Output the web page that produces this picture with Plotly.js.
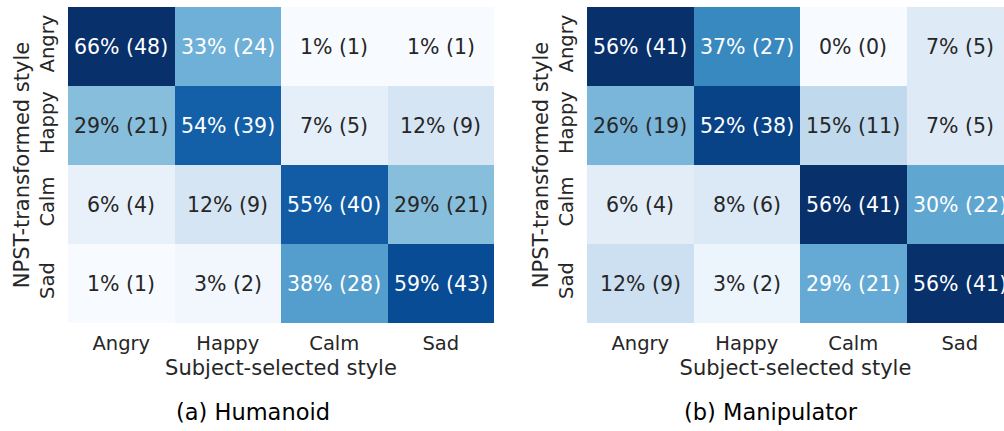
<!DOCTYPE html>
<html>
<head>
<meta charset="utf-8">
<script src="https://cdn.plot.ly/plotly-3.0.1.min.js"></script>
<style>html,body{margin:0;padding:0;overflow:hidden;background:#fff;}</style>
</head>
<body>
<div id="chart" style="width:1004px;height:431px;"></div>
<script>
const styles = ["Angry", "Happy", "Calm", "Sad"];
// rows: NPST-transformed style, cols: subject-selected style
const humanoidPct = [
  [66, 33, 1, 1],
  [29, 54, 7, 12],
  [6, 12, 55, 29],
  [1, 3, 38, 59]
];
const humanoidCnt = [
  [48, 24, 1, 1],
  [21, 39, 5, 9],
  [4, 9, 40, 21],
  [1, 2, 28, 43]
];
const manipPct = [
  [56, 37, 0, 7],
  [26, 52, 15, 7],
  [6, 8, 56, 30],
  [12, 3, 29, 56]
];
const manipCnt = [
  [41, 27, 0, 5],
  [19, 38, 11, 5],
  [4, 6, 41, 22],
  [9, 2, 21, 41]
];
const captions = ["(a) Humanoid", "(b) Manipulator"];

const blues = [
  [0.0, "#f7fbff"], [0.125, "#deebf7"], [0.25, "#c6dbef"], [0.375, "#9ecae1"],
  [0.5, "#6baed6"], [0.625, "#4292c6"], [0.75, "#2171b5"], [0.875, "#08519c"], [1.0, "#08306b"]
];

const FONT = "DejaVu Sans, sans-serif";
const W = 1004, H = 431;

function flatMin(a){return Math.min(...a.flat());}
function flatMax(a){return Math.max(...a.flat());}

function makeTrace(pct, xa, ya){
  return {
    type: "heatmap", x: styles, y: styles, z: pct,
    xaxis: xa, yaxis: ya,
    colorscale: blues, zmin: flatMin(pct), zmax: flatMax(pct),
    showscale: false, hoverinfo: "skip"
  };
}

function makeAnn(pct, cnt, xref, yref){
  const lo = flatMin(pct), hi = flatMax(pct);
  const out = [];
  for (let r = 0; r < styles.length; r++) {
    for (let c = 0; c < styles.length; c++) {
      const t = (pct[r][c] - lo) / (hi - lo);
      out.push({
        x: styles[c], y: styles[r], xref: xref, yref: yref,
        text: pct[r][c] + "% (" + cnt[r][c] + ")",
        showarrow: false,
        font: {family: FONT, size: 20.5, color: t > 0.47 ? "#ffffff" : "#262626"}
      });
    }
  }
  return out;
}

const yDom = [1 - 323 / H, 1 - 7 / H];
const axCommon = {
  type: "category", showgrid: false, zeroline: false, showline: false,
  ticks: "",
  tickfont: {family: FONT, size: 19.5, color: "#262626"}
};
const titleFont = {family: FONT, size: 21, color: "#262626"};

const layout = {
  width: W, height: H,
  margin: {l: 0, r: 0, t: 0, b: 0},
  paper_bgcolor: "#ffffff", plot_bgcolor: "#ffffff",
  xaxis: Object.assign({}, axCommon, {
    domain: [68 / W, 494 / W], anchor: "y", range: [-0.5, 3.5], ticklabelstandoff: 6,
    title: {text: "Subject-selected style", font: titleFont, standoff: 6}
  }),
  yaxis: Object.assign({}, axCommon, {
    domain: yDom, anchor: "x", autorange: "reversed", tickangle: -90, ticklabelstandoff: 9,
    title: {text: "NPST-transformed style", font: titleFont, standoff: 0}
  }),
  xaxis2: Object.assign({}, axCommon, {
    domain: [587 / W, 1], anchor: "y2", range: [-0.5, 3.415], ticklabelstandoff: 6,
    title: {text: "Subject-selected style", font: titleFont, standoff: 6}
  }),
  yaxis2: Object.assign({}, axCommon, {
    domain: yDom, anchor: "x2", autorange: "reversed", tickangle: -90, ticklabelstandoff: 9,
    title: {text: "NPST-transformed style", font: titleFont, standoff: 0}
  }),
  annotations: [].concat(
    makeAnn(humanoidPct, humanoidCnt, "x", "y"),
    makeAnn(manipPct, manipCnt, "x2", "y2"),
    [
      {text: captions[0], xref: "paper", yref: "paper", x: 253 / W, y: 1 - 412 / H,
       showarrow: false, xanchor: "center", yanchor: "middle",
       font: {family: FONT, size: 22.5, color: "#000000"}},
      {text: captions[1], xref: "paper", yref: "paper", x: 771 / W, y: 1 - 412 / H,
       showarrow: false, xanchor: "center", yanchor: "middle",
       font: {family: FONT, size: 22.5, color: "#000000"}}
    ]
  )
};

Plotly.newPlot("chart", [
  makeTrace(humanoidPct, "x", "y"),
  makeTrace(manipPct, "x2", "y2")
], layout, {staticPlot: true, displayModeBar: false});
</script>
</body>
</html>
